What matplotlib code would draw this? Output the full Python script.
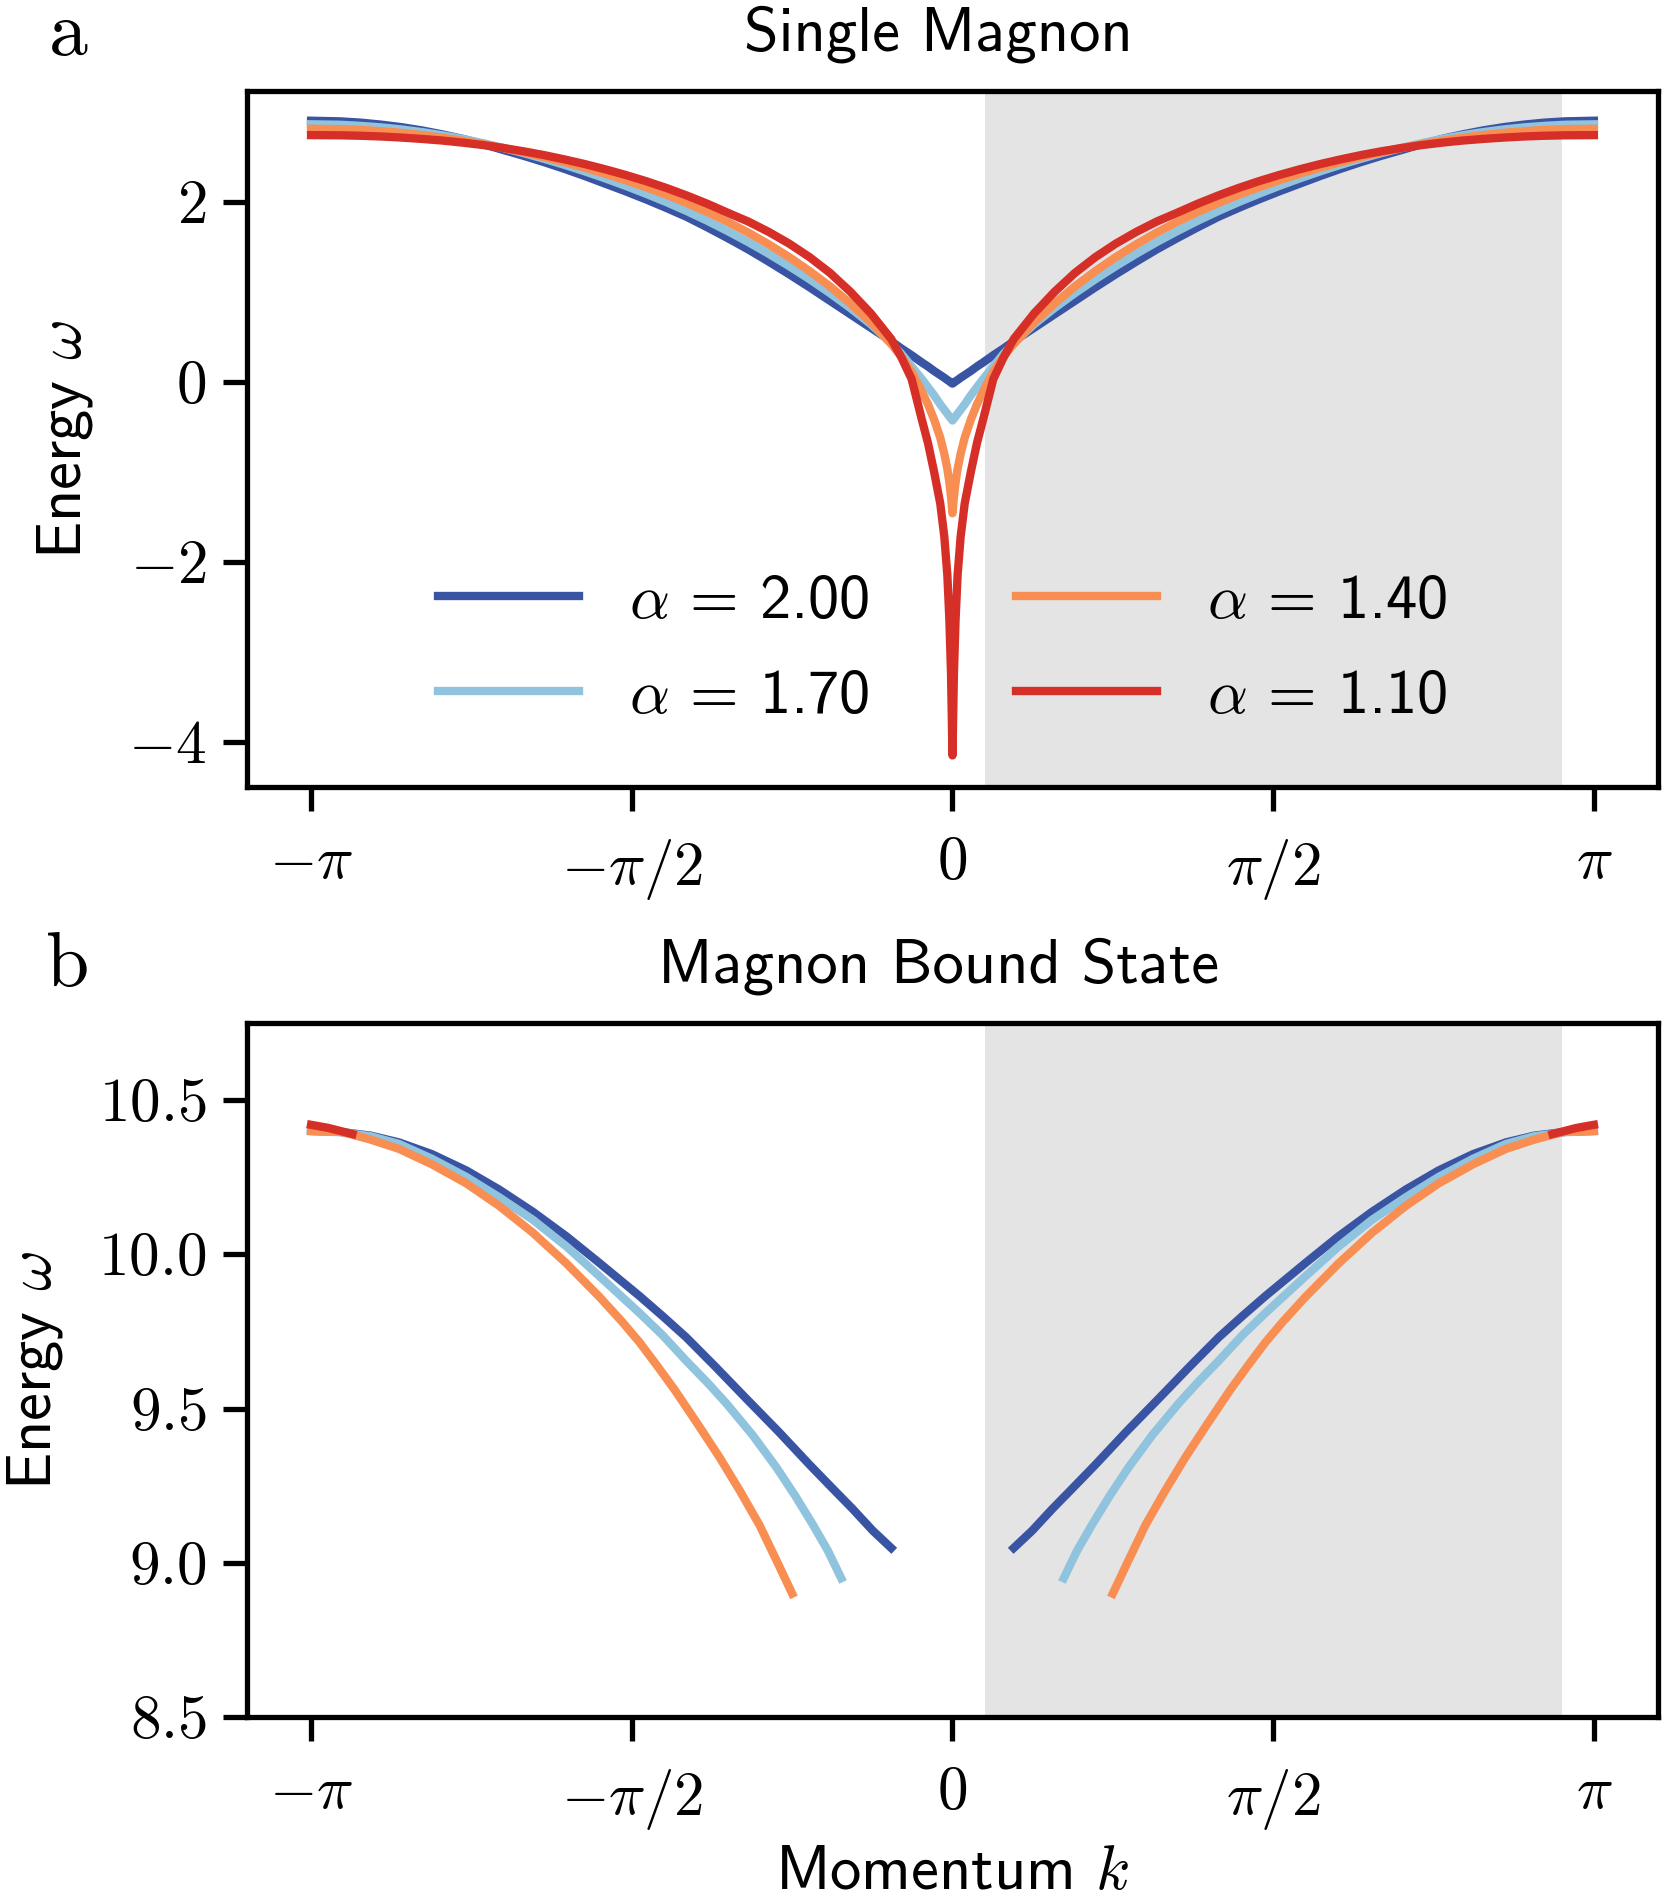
import numpy as np
import matplotlib
matplotlib.use("Agg")
import matplotlib.pyplot as plt

plt.rcParams['font.family'] = 'cmss10'
plt.rcParams['mathtext.fontset'] = 'cm'
plt.rcParams['axes.unicode_minus'] = False

# single magnon for k <= 0 (the curves are symmetric)
k_a = [-np.pi, -3.0, -2.9, -2.8, -2.7, -2.6, -2.5, -2.4, -2.3, -2.2, -2.1, -2.0,
       -1.9, -1.8, -1.7, -1.6, -1.5, -1.4, -1.3, -1.2, -1.1, -1.0, -0.9, -0.8,
       -0.7, -0.6, -0.5, -0.4, -0.3, -0.25, -0.2, -0.15, -0.12, -0.09, -0.06,
       -0.04, -0.025, -0.015, -0.007, 0.0]
single_200 = [2.900, 2.893, 2.879, 2.857, 2.829, 2.793, 2.749, 2.699, 2.641, 2.575, 2.51, 2.44,
              2.365, 2.285, 2.20, 2.115, 2.025, 1.93, 1.83, 1.715, 1.595, 1.47, 1.335, 1.195,
              1.05, 0.90, 0.75, 0.60, 0.45, 0.37, 0.295, 0.215, 0.17, 0.12, 0.075,
              0.045, 0.02, 0.005, -0.01, -0.02]
single_170 = [2.860, 2.855, 2.843, 2.826, 2.803, 2.774, 2.739, 2.698, 2.651, 2.598, 2.540, 2.477,
              2.410, 2.337, 2.259, 2.176, 2.088, 1.995, 1.895, 1.788, 1.673, 1.552, 1.422, 1.285,
              1.140, 0.985, 0.820, 0.640, 0.43, 0.31, 0.17, 0.03, -0.06, -0.15, -0.25,
              -0.31, -0.355, -0.385, -0.41, -0.43]
single_140 = [2.810, 2.807, 2.798, 2.784, 2.765, 2.741, 2.712, 2.678, 2.640, 2.597, 2.549, 2.497,
              2.440, 2.378, 2.311, 2.239, 2.161, 2.077, 1.985, 1.885, 1.776, 1.657, 1.527, 1.385,
              1.230, 1.060, 0.870, 0.660, 0.42, 0.28, 0.11, -0.11, -0.25, -0.42, -0.62,
              -0.80, -0.97, -1.12, -1.28, -1.46]
single_110 = [2.740, 2.738, 2.733, 2.725, 2.713, 2.698, 2.680, 2.657, 2.630, 2.597, 2.560, 2.518,
              2.470, 2.418, 2.360, 2.297, 2.228, 2.152, 2.068, 1.977, 1.877, 1.78, 1.665, 1.535,
              1.385, 1.21, 1.00, 0.76, 0.475, 0.27, 0.03, -0.42, -0.68, -1.0, -1.35,
              -1.72, -2.15, -2.65, -3.25, -4.15]

# magnon bound state, left branch from k = -pi to where it stops
kb_200 = [-np.pi, -3.0, -2.85, -2.711, -2.55, -2.381, -2.22, -2.055, -1.89, -1.729, -1.533,
          -1.42, -1.304, -1.16, -1.011, -0.85, -0.700, -0.59, -0.488, -0.390, -0.30]
bound_200 = [10.400, 10.397, 10.385, 10.363, 10.325, 10.272, 10.21, 10.138, 10.058, 9.972, 9.865,
             9.80, 9.731, 9.635, 9.533, 9.424, 9.318, 9.243, 9.174, 9.104, 9.048]
kb_170 = [-np.pi, -3.0, -2.85, -2.711, -2.55, -2.381, -2.22, -2.055, -1.89, -1.729, -1.533,
          -1.42, -1.304, -1.2, -1.108, -0.98, -0.863, -0.77, -0.684, -0.61, -0.545]
bound_170 = [10.400, 10.396, 10.383, 10.358, 10.31, 10.251, 10.185, 10.112, 10.025, 9.929, 9.81,
             9.738, 9.655, 9.584, 9.517, 9.415, 9.310, 9.217, 9.124, 9.039, 8.95]
kb_140 = [-np.pi, -3.0, -2.95, -2.85, -2.711, -2.55, -2.381, -2.22, -2.055, -1.89, -1.729, -1.62,
          -1.533, -1.45, -1.362, -1.25, -1.141, -1.04, -0.945, -0.86, -0.785]
bound_140 = [10.400, 10.398, 10.39, 10.372, 10.342, 10.292, 10.23, 10.157, 10.07, 9.97, 9.862, 9.783,
             9.715, 9.642, 9.562, 9.452, 9.342, 9.232, 9.122, 9.005, 8.90]
kb_110 = [-np.pi, -3.057, -2.939]
bound_110 = [10.42, 10.41, 10.39]

alphas = ['2.00', '1.70', '1.40', '1.10']
colors = ['#3a54a4', '#90c3dd', '#f98e52', '#d62f27']

xticks = [-np.pi, -np.pi / 2, 0, np.pi / 2, np.pi]
xticklabels = [r'$-\pi$', r'$-\pi/2$', r'$0$', r'$\pi/2$', r'$\pi$']


def full_curve(k, e):
    # mirror the k <= 0 half onto k >= 0
    k = np.array(k)
    e = np.array(e)
    return np.concatenate([k, -k[-2::-1]]), np.concatenate([e, e[-2::-1]])


fig = plt.figure(figsize=(8.32, 9.52), dpi=200)
ax1 = fig.add_axes([0.1484, 0.5867, 0.848, 0.3655])
ax2 = fig.add_axes([0.1484, 0.0982, 0.848, 0.3645])

lw = 3.0
fs = 22.5
tfs = 22

singles = [single_200, single_170, single_140, single_110]
for a, c, e in zip(alphas, colors, singles):
    kk, ee = full_curve(k_a, e)
    ax1.plot(kk, ee, color=c, lw=lw, label=r'$\alpha$ = ' + a)

bounds = [(kb_200, bound_200), (kb_170, bound_170), (kb_140, bound_140), (kb_110, bound_110)]
for c, (k, e) in zip(colors, bounds):
    k = np.array(k)
    e = np.array(e)
    ax2.plot(k, e, color=c, lw=lw)
    ax2.plot(-k, e, color=c, lw=lw)

for ax in (ax1, ax2):
    ax.axvspan(np.pi / 20, 19 * np.pi / 20, color='#e4e4e4', lw=0, zorder=0)
    ax.set_xlim(-np.pi - 0.314, np.pi + 0.314)
    ax.set_xticks(xticks)
    ax.set_xticklabels(xticklabels)
    ax.tick_params(direction='out', length=8.6, width=1.9, labelsize=tfs)
    ax.tick_params(axis='x', pad=9.5)
    ax.tick_params(axis='y', pad=6)
    for s in ax.spines.values():
        s.set_linewidth(1.9)
    ax.set_ylabel(r'Energy $\omega$', fontsize=fs, labelpad=12)

ax1.set_ylim(-4.5, 3.23)
ax1.set_yticks([-4, -2, 0, 2])
ax1.set_yticklabels([r'$-4$', r'$-2$', r'$0$', r'$2$'])
ax1.set_title('Single Magnon', fontsize=fs, pad=14.5, x=0.49)
ax1.legend(ncol=2, frameon=False, fontsize=fs, loc='lower center',
           bbox_to_anchor=(0.493, 0.008), handlelength=2.25, handletextpad=0.8,
           columnspacing=2.35, labelspacing=0.63)

ax2.set_ylim(8.5, 10.75)
ax2.set_yticks([8.5, 9.0, 9.5, 10.0, 10.5])
ax2.set_yticklabels([r'$8.5$', r'$9.0$', r'$9.5$', r'$10.0$', r'$10.5$'])
ax2.set_title('Magnon Bound State', fontsize=fs, pad=14.5, x=0.49)
ax2.set_xlabel(r'Momentum $k$', fontsize=fs, labelpad=4.5)

fig.text(0.0409, 0.9713, 'a', family='cmr10', fontsize=28, ha='center', va='baseline')
fig.text(0.0409, 0.482, 'b', family='cmr10', fontsize=28, ha='center', va='baseline')

fig.savefig('out.png', dpi=200)
